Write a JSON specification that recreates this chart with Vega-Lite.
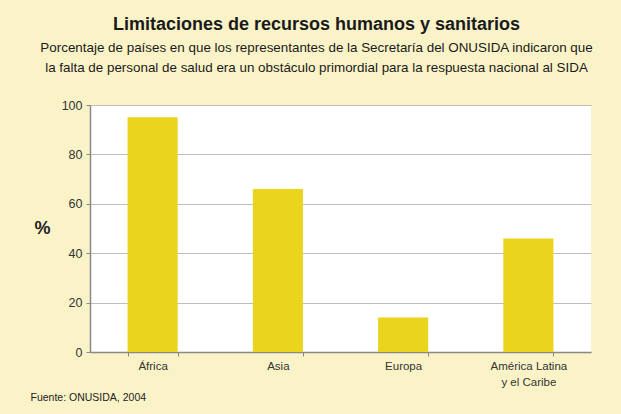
{
  "$schema": "https://vega.github.io/schema/vega-lite/v6.json",
  "width": 501,
  "height": 247,
  "autosize": {"type": "none"},
  "padding": {"left": 90, "top": 105, "right": 30, "bottom": 62},
  "background": "#FBF3C8",
  "title": {
    "text": "Limitaciones de recursos humanos y sanitarios",
    "subtitle": [
      "Porcentaje de países en que los representantes de la Secretaría del ONUSIDA indicaron que",
      "la falta de personal de salud era un obstáculo primordial para la respuesta nacional al SIDA"
    ],
    "anchor": "middle",
    "frame": "group",
    "dx": -24,
    "offset": 25,
    "font": "Liberation Sans",
    "fontSize": 18,
    "fontWeight": "bold",
    "color": "#1a1a1a",
    "subtitleFont": "Liberation Sans",
    "subtitleFontSize": 13.4,
    "subtitleColor": "#1a1a1a",
    "subtitleLineHeight": 20,
    "subtitlePadding": 7
  },
  "data": {
    "values": [
      {"region": "África", "pct": 95},
      {"region": "Asia", "pct": 66},
      {"region": "Europa", "pct": 14},
      {"region": "América Latina|y el Caribe", "pct": 46}
    ]
  },
  "mark": {"type": "bar", "color": "#EBD41E"},
  "encoding": {
    "x": {
      "field": "region",
      "type": "nominal",
      "sort": null,
      "scale": {"paddingInner": 0.6, "paddingOuter": 0.3},
      "axis": {
        "labelAngle": 0,
        "labelExpr": "split(datum.label, '|')",
        "labelFont": "Liberation Sans",
        "labelFontSize": 11.5,
        "labelColor": "#333333",
        "labelLineHeight": 16,
        "labelPadding": 4,
        "tickBand": "extent",
        "tickSize": 4,
        "tickColor": "#888888",
        "domainColor": "#888888",
        "domainWidth": 1.5,
        "title": "Fuente: ONUSIDA, 2004",
        "titleX": -60,
        "titleY": 45,
        "titleAlign": "left",
        "titleBaseline": "middle",
        "titleFont": "Liberation Sans",
        "titleFontSize": 10.5,
        "titleFontWeight": "normal",
        "titleColor": "#222222"
      }
    },
    "y": {
      "field": "pct",
      "type": "quantitative",
      "scale": {"domain": [0, 100]},
      "axis": {
        "values": [0, 20, 40, 60, 80, 100],
        "grid": true,
        "gridColor": "#BDBDBD",
        "gridWidth": 1.2,
        "domainColor": "#888888",
        "domainWidth": 1.5,
        "tickColor": "#888888",
        "tickSize": 4,
        "labelPadding": 4,
        "labelFont": "Liberation Sans",
        "labelFontSize": 12.5,
        "labelColor": "#333333",
        "title": "%",
        "titleAngle": 0,
        "titleX": -48,
        "titleY": 123,
        "titleAlign": "center",
        "titleBaseline": "middle",
        "titleFont": "Liberation Sans",
        "titleFontSize": 18,
        "titleFontWeight": "bold",
        "titleColor": "#222222"
      }
    }
  },
  "config": {
    "view": {"stroke": null, "fill": "white"},
    "font": "Liberation Sans"
  }
}
